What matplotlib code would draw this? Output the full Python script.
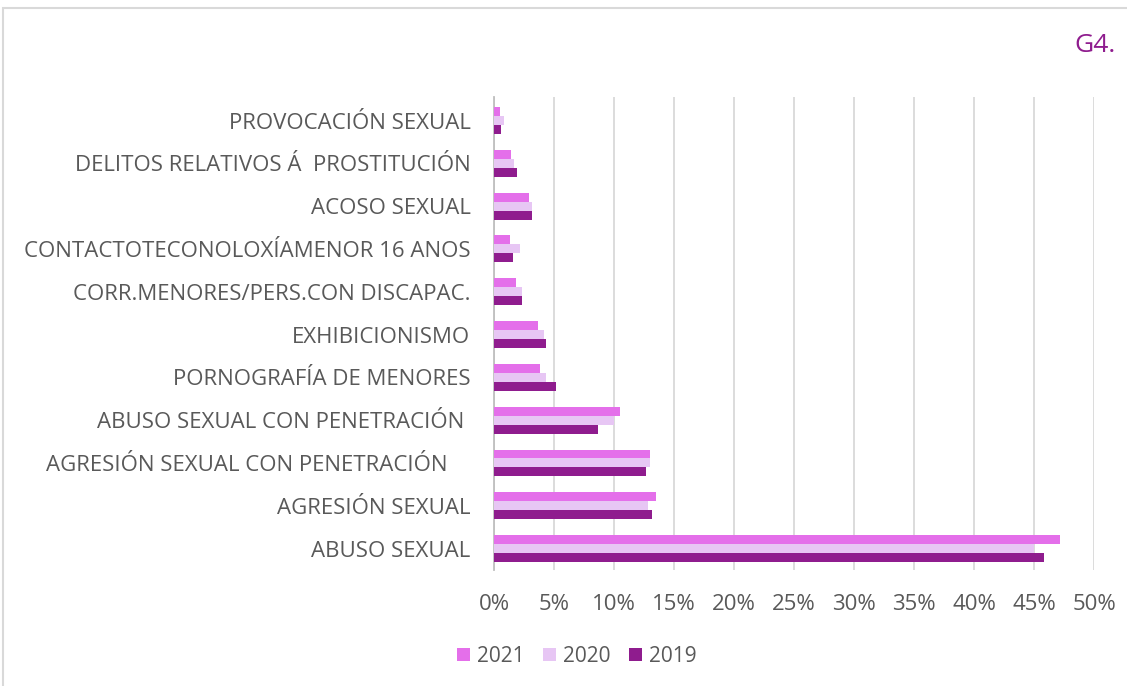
import matplotlib.pyplot as plt
import numpy as np
from matplotlib.patches import Rectangle

plt.rcParams['font.family'] = ['Open Sans', 'DejaVu Sans']

# categories from bottom to top
CATEGORIES = [
    "ABUSO SEXUAL",
    "AGRESIÓN SEXUAL",
    "AGRESIÓN SEXUAL CON PENETRACIÓN    ",
    "ABUSO SEXUAL CON PENETRACIÓN ",
    "PORNOGRAFÍA DE MENORES",
    "EXHIBICIONISMO",
    "CORR.MENORES/PERS.CON DISCAPAC.",
    "CONTACTOTECONOLOXÍAMENOR 16 ANOS",
    "ACOSO SEXUAL",
    "DELITOS RELATIVOS Á  PROSTITUCIÓN",
    "PROVOCACIÓN SEXUAL",
]

VALUES_2021 = [47.2, 13.5, 13.0, 10.5, 3.8, 3.7, 1.8, 1.3, 2.9, 1.4, 0.5]
VALUES_2020 = [45.0, 12.8, 13.0, 10.0, 4.3, 4.2, 2.3, 2.2, 3.2, 1.7, 0.8]
VALUES_2019 = [45.8, 13.2, 12.7, 8.7, 5.2, 4.3, 2.3, 1.6, 3.2, 1.9, 0.6]

YEARS = ["2021", "2020", "2019"]
COLORS = ["#E46FEA", "#E7C6F4", "#8F1C8E"]

TEXT_COLOR = "#595959"


def main():
    fig = plt.figure(figsize=(11.27, 6.86), dpi=100)
    ax = fig.add_axes([494 / 1127, 1 - 570 / 686, (1094 - 494) / 1127, (570 - 97) / 686])

    y = np.arange(len(CATEGORIES))
    h = 0.21
    series = [VALUES_2021, VALUES_2020, VALUES_2019]
    offsets = [h, 0, -h]
    for vals, off, col, yr in zip(series, offsets, COLORS, YEARS):
        ax.barh(y + off, vals, height=h, color=col, label=yr, zorder=3)

    ax.set_xlim(0, 50)
    ax.set_ylim(-0.5, len(CATEGORIES) - 0.45)
    ax.set_xticks(np.arange(0, 51, 5))
    ax.set_xticklabels([f"{v}%" for v in range(0, 51, 5)])
    ax.set_yticks(y)
    ax.set_yticklabels(CATEGORIES)

    ax.grid(axis="x", color="#D9D9D9", linewidth=1.3, zorder=0)
    for s in ["top", "right", "bottom"]:
        ax.spines[s].set_visible(False)
    ax.spines["left"].set_color("#BFBFBF")
    ax.spines["left"].set_linewidth(1.3)

    ax.tick_params(axis="both", length=0, colors=TEXT_COLOR)
    ax.tick_params(axis="y", labelsize=16, pad=17)
    ax.tick_params(axis="x", labelsize=16, pad=17)

    leg = fig.legend(loc="center", bbox_to_anchor=(577 / 1127, 1 - 656 / 686), ncol=3,
                     frameon=False, fontsize=15, handlelength=0.6, handleheight=0.6,
                     handletextpad=0.35, columnspacing=0.9)
    for t in leg.get_texts():
        t.set_color(TEXT_COLOR)

    fig.text(1116 / 1127, 1 - 45 / 686, "G4.", color="#8F1C8E", fontsize=19,
             ha="right", va="center")

    # chart area border
    fig.patches.append(Rectangle((3 / 1127, -0.01), 1.02, 1 - 8 / 686 + 0.01,
                                 transform=fig.transFigure, fill=False,
                                 edgecolor="#D9D9D9", linewidth=1.5))

    fig.savefig("out.png", dpi=100)


if __name__ == "__main__":
    main()
